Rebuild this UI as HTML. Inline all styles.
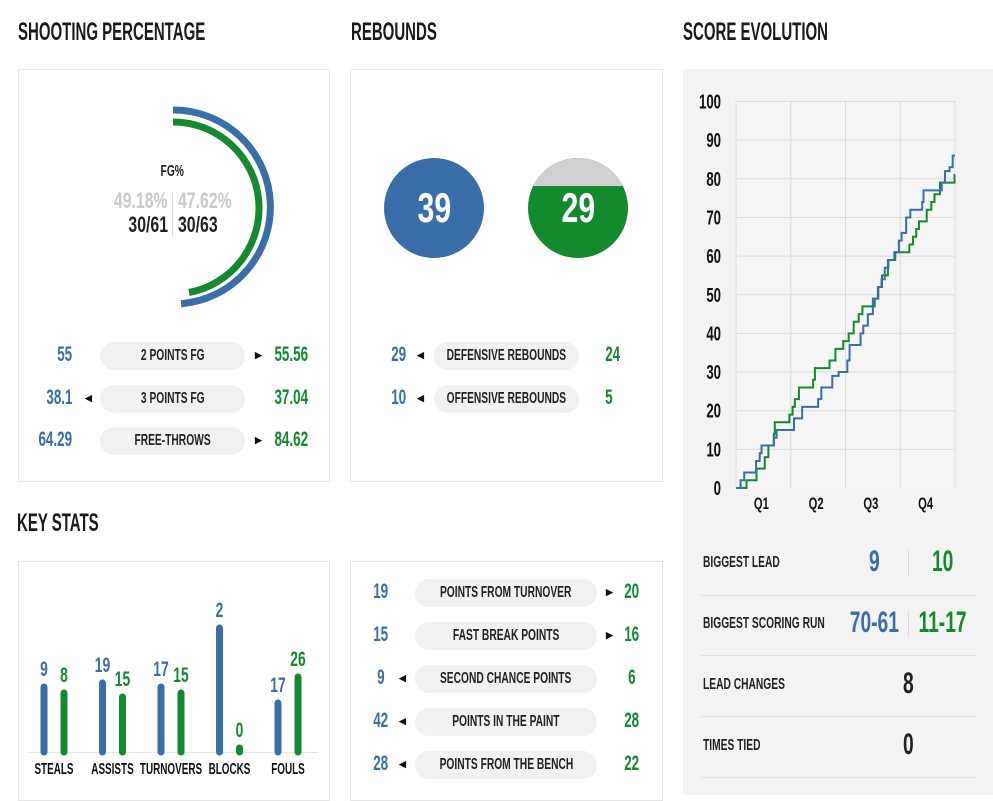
<!DOCTYPE html>
<html><head><meta charset="utf-8">
<style>
*{margin:0;padding:0;box-sizing:border-box}
body{width:993px;height:795px;background:#fff;position:relative;overflow:hidden;font-family:"Liberation Sans",sans-serif;font-weight:bold;color:#222}
.abs{position:absolute;white-space:nowrap}
.s{display:inline-block;white-space:nowrap;transform:scaleX(.64);transform-origin:center}
.sl{transform-origin:left}.sr{transform-origin:right}
.title{position:absolute;font-size:25px;color:#1a1a1a;line-height:26px;white-space:nowrap}
.panel{position:absolute;background:#fff;border:1px solid #e6e6e6}
.pill{position:absolute;height:28px;background:#f1f1f1;border-radius:14px;font-size:16px;line-height:28px;color:#222;white-space:nowrap;display:flex;justify-content:center}
.num{position:absolute;font-size:21px;line-height:24px;width:60px;white-space:nowrap;display:flex;justify-content:center}
.b{color:#3a6ea8}.g{color:#138a2e}
.arr{position:absolute;font-size:9px;line-height:12px;color:#111}
.lbl{position:absolute;font-size:16px;color:#222;line-height:18px;white-space:nowrap}
.sep{position:absolute;left:700px;width:276px;height:1px;background:#e2e2e2}
.big{font-size:30px;display:flex;justify-content:center}
</style></head><body>

<div class="title" style="left:18px;top:19px"><span class="s sl" style="transform:scaleX(.6)">SHOOTING PERCENTAGE</span></div>
<div class="title" style="left:351px;top:19px"><span class="s sl" style="transform:scaleX(.6)">REBOUNDS</span></div>
<div class="title" style="left:683px;top:19px"><span class="s sl" style="transform:scaleX(.6)">SCORE EVOLUTION</span></div>
<div class="title" style="left:17px;top:510px"><span class="s sl" style="transform:scaleX(.6)">KEY STATS</span></div>

<!-- shooting panel -->
<div class="panel" style="left:18px;top:69px;width:312px;height:413px"></div>
<svg class="abs" style="left:0;top:0" width="340" height="340">
<path d="M173 110 A97 97 0 0 1 181 303.7" fill="none" stroke="#3a6ea8" stroke-width="7"/>
<path d="M173 122 A86 86 0 0 1 189 292.5" fill="none" stroke="#138a2e" stroke-width="7"/>
<line x1="172.5" y1="193" x2="172.5" y2="237" stroke="#ddd" stroke-width="1"/>
</svg>
<div class="abs" style="left:142px;top:163px;width:60px;display:flex;justify-content:center;font-size:16px"><span class="s">FG%</span></div>
<div class="abs" style="left:88px;top:188px;width:80px;text-align:right;font-size:22px;color:#c9c9c9"><span class="s sr" style="transform:scaleX(.72)">49.18%</span></div>
<div class="abs" style="left:178px;top:188px;width:80px;font-size:22px;color:#c9c9c9"><span class="s sl" style="transform:scaleX(.72)">47.62%</span></div>
<div class="abs" style="left:88px;top:212px;width:80px;text-align:right;font-size:22px"><span class="s sr" style="transform:scaleX(.72)">30/61</span></div>
<div class="abs" style="left:178px;top:212px;width:80px;font-size:22px"><span class="s sl" style="transform:scaleX(.72)">30/63</span></div>

<div class="num b" style="left:35px;top:343px"><span class="s">55</span></div>
<div class="pill" style="left:100px;top:342px;width:145px"><span class="s">2 POINTS FG</span></div>
<div class="arr" style="left:255px;top:349px">&#9654;</div>
<div class="num g" style="left:261px;top:343px"><span class="s">55.56</span></div>
<div class="num b" style="left:29px;top:386px"><span class="s">38.1</span></div>
<div class="arr" style="left:85px;top:392px">&#9664;</div>
<div class="pill" style="left:100px;top:385px;width:145px"><span class="s">3 POINTS FG</span></div>
<div class="num g" style="left:261px;top:386px"><span class="s">37.04</span></div>
<div class="num b" style="left:25px;top:428px"><span class="s">64.29</span></div>
<div class="pill" style="left:100px;top:427px;width:145px"><span class="s">FREE-THROWS</span></div>
<div class="arr" style="left:255px;top:434px">&#9654;</div>
<div class="num g" style="left:261px;top:428px"><span class="s">84.62</span></div>

<!-- rebounds panel -->
<div class="panel" style="left:350px;top:69px;width:313px;height:413px"></div>
<svg class="abs" style="left:370px;top:150px" width="280" height="120">
<circle cx="64" cy="58" r="50" fill="#3a6ea8"/>
<clipPath id="c2"><circle cx="208" cy="58" r="50"/></clipPath>
<g clip-path="url(#c2)">
<rect x="150" y="0" width="120" height="120" fill="#138a2e"/>
<rect x="150" y="0" width="120" height="36" fill="#d0d0d0"/>
</g>
</svg>
<div class="abs" style="left:394px;top:184px;width:80px;display:flex;justify-content:center;color:#fff;font-size:42px;line-height:48px"><span class="s" style="transform:scaleX(.72)">39</span></div>
<div class="abs" style="left:538px;top:184px;width:80px;display:flex;justify-content:center;color:#fff;font-size:42px;line-height:48px"><span class="s" style="transform:scaleX(.72)">29</span></div>

<div class="num b" style="left:369px;top:343px"><span class="s">29</span></div>
<div class="arr" style="left:417px;top:349px">&#9664;</div>
<div class="pill" style="left:434px;top:342px;width:145px"><span class="s">DEFENSIVE REBOUNDS</span></div>
<div class="num g" style="left:583px;top:343px"><span class="s">24</span></div>
<div class="num b" style="left:369px;top:386px"><span class="s">10</span></div>
<div class="arr" style="left:417px;top:392px">&#9664;</div>
<div class="pill" style="left:434px;top:385px;width:145px"><span class="s">OFFENSIVE REBOUNDS</span></div>
<div class="num g" style="left:579px;top:386px"><span class="s">5</span></div>

<!-- key stats panel -->
<div class="panel" style="left:18px;top:561px;width:312px;height:240px"></div>
<svg class="abs" id="barsvg" style="left:18px;top:561px" width="312" height="234"></svg>

<!-- misc stats panel -->
<div class="panel" style="left:350px;top:561px;width:313px;height:240px"></div>
<div id="misc"></div>

<!-- score evolution panel -->
<div class="abs" style="left:683px;top:69px;width:310px;height:726px;background:#f3f3f3"></div>
<svg class="abs" id="linesvg" style="left:683px;top:80px" width="300" height="440"></svg>

<div class="lbl" style="left:703px;top:554px"><span class="s sl">BIGGEST LEAD</span></div>
<div class="abs b big" style="left:844px;top:545px;width:60px"><span class="s">9</span></div>
<div class="abs" style="left:908px;top:550px;width:1px;height:26px;background:#ddd"></div>
<div class="abs g big" style="left:913px;top:545px;width:60px"><span class="s">10</span></div>
<div class="sep" style="top:595px"></div>
<div class="lbl" style="left:703px;top:615px"><span class="s sl">BIGGEST SCORING RUN</span></div>
<div class="abs b big" style="left:839px;top:606px;width:70px"><span class="s">70-61</span></div>
<div class="abs" style="left:908px;top:611px;width:1px;height:26px;background:#ddd"></div>
<div class="abs g big" style="left:908px;top:606px;width:70px"><span class="s">11-17</span></div>
<div class="sep" style="top:655px"></div>
<div class="lbl" style="left:703px;top:676px"><span class="s sl">LEAD CHANGES</span></div>
<div class="abs big" style="left:878px;top:667px;width:60px"><span class="s">8</span></div>
<div class="sep" style="top:716px"></div>
<div class="lbl" style="left:703px;top:737px"><span class="s sl">TIMES TIED</span></div>
<div class="abs big" style="left:878px;top:728px;width:60px"><span class="s">0</span></div>
<div class="sep" style="top:777px"></div>

<script>
// ---- key stats bars ----
const statCats = ["STEALS","ASSISTS","TURNOVERS","BLOCKS","FOULS"];
const homeVals = [9,19,17,2,17];
const awayVals = [8,15,15,0,26];
const homeHeights = [68,72,68,127,52];   // relative bar heights
const awayHeights = [62,58,62,7,78];
const FONT='Liberation Sans, sans-serif';
(function(){
  const svg=document.getElementById('barsvg');
  const NS='http://www.w3.org/2000/svg';
  const base=191, groupX=i=>40+i*58.5, yS=h=>base-h;
  const ax=document.createElementNS(NS,'line');
  ax.setAttribute('x1',10);ax.setAttribute('x2',300);ax.setAttribute('y1',base+0.5);ax.setAttribute('y2',base+0.5);
  ax.setAttribute('stroke','#e6e6e6');
  
  
  svg.appendChild(ax);
  statCats.forEach((c,i)=>{
    [[homeHeights,homeVals,'#3a6ea8',0,'home'],[awayHeights,awayVals,'#138a2e',20,'away']].forEach(([hs,vs,col,off,team])=>{
      const x=groupX(i)+off-14;
      const l=document.createElementNS(NS,'line');
      l.setAttribute('x1',x);l.setAttribute('x2',x);l.setAttribute('y1',yS(hs[i])+3);l.setAttribute('y2',base);
      l.setAttribute('stroke',col);l.setAttribute('stroke-width',7);l.setAttribute('stroke-linecap','round');
      
      
      svg.appendChild(l);
      const t=document.createElementNS(NS,'text');
      t.setAttribute('transform','translate('+x+','+(yS(hs[i])-8)+') scale(.66,1)');
      t.setAttribute('text-anchor','middle');
      t.setAttribute('fill',col);t.setAttribute('font-size','21');t.setAttribute('font-weight','bold');
      t.setAttribute('font-family',FONT);
      t.textContent=vs[i];
      
      
      svg.appendChild(t);
    });
    const t=document.createElementNS(NS,'text');
    t.setAttribute('transform','translate('+(groupX(i)-4)+',213) scale(.62,1)');
    t.setAttribute('text-anchor','middle');
    t.setAttribute('fill','#111');t.setAttribute('font-size','16');t.setAttribute('font-weight','bold');
    t.setAttribute('font-family',FONT);
    t.textContent=c;
    
    
    svg.appendChild(t);
  });
})();

// ---- misc stats ----
const miscLabels=["POINTS FROM TURNOVER","FAST BREAK POINTS","SECOND CHANCE POINTS","POINTS IN THE PAINT","POINTS FROM THE BENCH"];
const miscHome=[19,15,9,42,28];
const miscAway=[20,16,6,28,22];
(function(){
  const m=document.getElementById('misc');
  miscLabels.forEach((lab,i)=>{
    const y=580+i*43, home=miscHome[i], away=miscAway[i];
    const slug=lab.toLowerCase().replace(/ /g,'-');
    const a=document.createElement('div');a.className='num b';a.style.left='351px';a.style.top=y+'px';
    a.innerHTML='<span class="s">'+home+'</span>';
    
    
    m.appendChild(a);
    const p=document.createElement('div');p.className='pill';p.style.left='415px';p.style.top=(y-1)+'px';p.style.width='182px';
    p.innerHTML='<span class="s">'+lab+'</span>';
    
    
    m.appendChild(p);
    const r=document.createElement('div');r.className='arr';r.style.top=(y+6)+'px';
    if(home>away){r.innerHTML='&#9664;';r.style.left='399px';}else{r.innerHTML='&#9654;';r.style.left='606px';}
    
    
    m.appendChild(r);
    const g=document.createElement('div');g.className='num g';g.style.left='602px';g.style.top=y+'px';
    g.innerHTML='<span class="s">'+away+'</span>';
    
    
    m.appendChild(g);
  });
})();

// ---- score evolution ----
const yTicks=[0,10,20,30,40,50,60,70,80,90,100];
const quarterLabels=["Q1","Q2","Q3","Q4"];
const homeTimes=[1.0,1.8,4.4,5.2,5.6,8.3,8.9,12.7,14.5,18.0,18.7,21.1,22.5,24.4,24.9,27.3,27.9,28.9,30.0,31.1,31.9,32.6,33.4,34.7,35.7,36.3,37.3,38.2,40.8,41.1,45.1,45.8,46.8,47.5];
const homeScores=[2,4,7,9,11,13,15,18,21,23,26,29,30,33,37,40,42,45,49,52,54,57,59,61,64,66,70,72,74,77,79,82,83,86];
const awayTimes=[2.3,4.5,6.3,7.1,8.3,8.5,11.7,12.4,12.9,13.8,16.9,17.3,20.5,21.8,23.5,24.7,25.8,26.9,27.7,30.4,31.2,32.0,33.3,34.9,38.0,38.8,39.5,40.1,41.8,42.8,43.5,44.7,47.9];
const awayScores=[2,5,8,11,14,17,19,21,23,26,28,31,33,36,38,40,43,45,47,49,52,55,59,61,63,65,67,69,72,74,76,79,81];
(function(){
  const svg=document.getElementById('linesvg');
  const NS='http://www.w3.org/2000/svg';
  const x0=53,x1=272,y0=408,y1=21.5;
  const xS=t=>x0+(x1-x0)*t/48, yS=v=>y0-(y0-y1)*v/100;
  const mk=(tag,attrs,name)=>{const e=document.createElementNS(NS,tag);for(const k in attrs)e.setAttribute(k,attrs[k]);
    
    
    svg.appendChild(e);return e;};
  mk('rect',{x:x0,y:y1,width:x1-x0,height:y0-y1,fill:'#f5f5f5'},'plot-area');
  yTicks.forEach(v=>{
    if(v>0) mk('line',{x1:x0,x2:x1,y1:yS(v),y2:yS(v),stroke:'#dcdcdc'},'y-gridline-'+v);
    const t=mk('text',{transform:'translate(38,'+(yS(v)+7)+') scale(.66,1)','text-anchor':'end','font-size':'20','font-weight':'bold',fill:'#111','font-family':FONT},'y-tick-'+v);
    t.textContent=v;
  });
  for(let q=0;q<=4;q++) mk('line',{x1:xS(q*12),x2:xS(q*12),y1:y1,y2:y0,stroke:'#dcdcdc'},'x-gridline-'+q);
  quarterLabels.forEach((q,i)=>{
    const t=mk('text',{transform:'translate('+(xS(i*12+6)-2)+','+(y0+21)+') scale(.66,1)','text-anchor':'middle','font-size':'17','font-weight':'bold',fill:'#111','font-family':FONT},'x-tick-'+q.toLowerCase());
    t.textContent=q;
  });
  const stepPath=(ts,vs)=>{let d='M'+xS(0)+' '+yS(0);let prev=0;
    ts.forEach((t,i)=>{d+=' L'+xS(t)+' '+yS(prev)+' L'+xS(t)+' '+yS(vs[i]);prev=vs[i];});
    d+=' L'+xS(48)+' '+yS(prev);return d;};
  mk('path',{d:stepPath(awayTimes,awayScores),fill:'none',stroke:'#138a2e','stroke-width':2},'line-away');
  mk('path',{d:stepPath(homeTimes,homeScores),fill:'none',stroke:'#3a6ea8','stroke-width':2},'line-home');
})();
</script>
</body></html>
